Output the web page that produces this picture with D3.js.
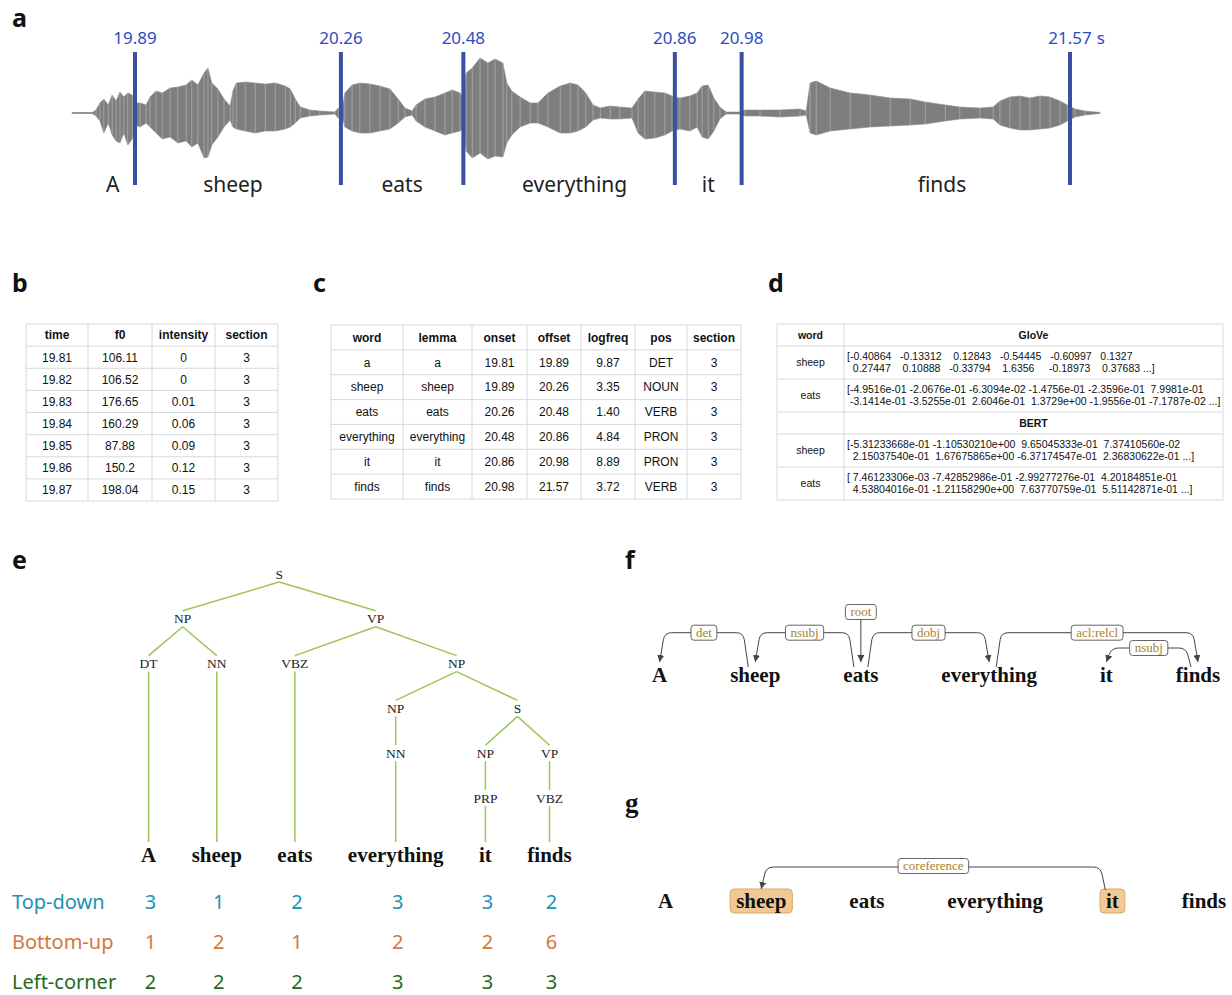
<!DOCTYPE html>
<html>
<head>
<meta charset="utf-8">
<script src="https://cdn.jsdelivr.net/npm/d3@7"></script>
<style>
  body { margin: 0; background: #fff; }
  svg { display: block; }
</style>
</head>
<body>
<script>
// ---- data ----
const boundaries = [19.89, 20.26, 20.48, 20.86, 20.98, 21.57];
const audioWords = ["A", "sheep", "eats", "everything", "it", "finds"];
const audioWordTimes = [19.85, 20.066, 20.37, 20.68, 20.92, 21.34];
// waveform envelope: [time s, upper amp, lower amp]
const waveform = [
  [19.777,0.5,0.5],[19.813,0.5,0.5],[19.820,3,3],[19.827,10,8],[19.834,14,20],[19.842,8,10],
  [19.849,18,22],[19.856,12,28],[19.863,21,30],[19.870,16,20],[19.877,20,32],[19.885,18,26],
  [19.890,10,12],[19.899,10,14],[19.910,8,10],[19.917,16,14],[19.928,22,20],[19.939,20,26],
  [19.953,25,24],[19.967,26,30],[19.982,28,28],[19.992,33,34],[20.003,28,30],[20.014,40,45],
  [20.021,45,44],[20.028,30,32],[20.039,24,24],[20.050,14,14],[20.061,7,7],[20.066,22,14],
  [20.072,30,16],[20.088,31,18],[20.106,30,20],[20.124,29,18],[20.142,30,18],[20.160,27,16],
  [20.169,24,14],[20.178,14,10],[20.187,6,5],[20.204,3,3],[20.222,2,2],[20.249,1,1],
  [20.255,5,5],[20.262,3,3],[20.267,20,14],[20.280,28,18],[20.294,30,20],[20.312,29,20],
  [20.330,27,18],[20.348,24,16],[20.363,14,10],[20.375,5,4],[20.388,2,2],[20.395,8,8],
  [20.411,14,14],[20.429,16,18],[20.447,20,22],[20.460,23,20],[20.474,20,18],[20.480,15,15],
  [20.485,40,38],[20.496,45,45],[20.510,55,40],[20.524,50,46],[20.537,54,43],[20.551,50,44],
  [20.558,30,30],[20.567,22,22],[20.582,16,14],[20.600,10,10],[20.614,10,10],[20.632,20,14],
  [20.654,27,20],[20.672,30,20],[20.686,28,18],[20.700,20,14],[20.713,8,7],[20.726,5,5],
  [20.744,7,6],[20.761,6,6],[20.783,5,5],[20.794,14,20],[20.806,22,26],[20.824,21,25],
  [20.842,20,22],[20.855,17,18],[20.869,15,16],[20.887,17,18],[20.900,20,14],[20.909,27,24],
  [20.920,28,26],[20.930,15,18],[20.941,6,6],[20.952,1,1],[20.977,1,1],[20.986,3,3],
  [21.013,3,3],[21.049,3,4],[21.085,4,3],[21.096,2,2],[21.103,30,20],[21.114,32,22],
  [21.139,25,18],[21.175,20,16],[21.211,18,14],[21.247,15,13],[21.283,14,12],[21.310,11,11],
  [21.346,8,8],[21.372,6,6],[21.408,5,5],[21.432,6,6],[21.444,12,12],[21.462,16,15],
  [21.480,17,17],[21.498,15,17],[21.516,17,16],[21.534,16,15],[21.552,12,12],[21.565,8,8],
  [21.579,4,4],[21.597,2,2],[21.624,0.5,0.5]
];

const prosodyCols = ["time", "f0", "intensity", "section"];
const prosodyTime = [19.81, 19.82, 19.83, 19.84, 19.85, 19.86, 19.87];
const prosodyF0 = [106.11, 106.52, 176.65, 160.29, 87.88, 150.2, 198.04];
const prosodyIntensity = [0, 0, 0.01, 0.06, 0.09, 0.12, 0.15];
const prosodySection = [3, 3, 3, 3, 3, 3, 3];

const wordCols = ["word", "lemma", "onset", "offset", "logfreq", "pos", "section"];
const wordOnsets = [19.81, 19.89, 20.26, 20.48, 20.86, 20.98];
const wordOffsets = [19.89, 20.26, 20.48, 20.86, 20.98, 21.57];
const logFreq = [9.87, 3.35, 1.40, 4.84, 8.89, 3.72];
const posTags = ["DET", "NOUN", "VERB", "PRON", "PRON", "VERB"];

const embedWords = ["sheep", "eats"];
const gloveVectors = [
  ["[-0.40864   -0.13312    0.12843   -0.54445   -0.60997   0.1327",
   "  0.27447    0.10888   -0.33794    1.6356     -0.18973    0.37683 ...]"],
  ["[-4.9516e-01 -2.0676e-01 -6.3094e-02 -1.4756e-01 -2.3596e-01  7.9981e-01",
   " -3.1414e-01 -3.5255e-01  2.6046e-01  1.3729e+00 -1.9556e-01 -7.1787e-02 ...]"]
];
const bertVectors = [
  ["[-5.31233668e-01 -1.10530210e+00  9.65045333e-01  7.37410560e-02",
   "  2.15037540e-01  1.67675865e+00 -6.37174547e-01  2.36830622e-01 ...]"],
  ["[ 7.46123306e-03 -7.42852986e-01 -2.99277276e-01  4.20184851e-01",
   "  4.53804016e-01 -1.21158290e+00  7.63770759e-01  5.51142871e-01 ...]"]
];

const parseTree = "(S (NP (DT A) (NN sheep)) (VP (VBZ eats) (NP (NP (NN everything)) (S (NP (PRP it)) (VP (VBZ finds))))))";
const strategies = ["Top-down", "Bottom-up", "Left-corner"];
const topDown = [3, 1, 2, 3, 3, 2];
const bottomUp = [1, 2, 1, 2, 2, 6];
const leftCorner = [2, 2, 2, 3, 3, 3];

const sentence = ["A", "sheep", "eats", "everything", "it", "finds"];
const depHeads = [1, 2, -1, 2, 5, 3];     // head index of each word, -1 = root
const depLabels = ["det", "nsubj", "root", "dobj", "nsubj", "acl:relcl"];
const corefLinks = [[4, 1]];               // it -> sheep
const corefLabel = "coreference";

// ---- setup ----
const SANS = "'Noto Sans', 'Noto Sans CJK KR', sans-serif";
const TAB = "'Liberation Sans', Arial, sans-serif";
const SERIF = "'Liberation Serif', 'Times New Roman', serif";

const svg = d3.select("body").append("svg").attr("width", 1232).attr("height", 995);

svg.append("defs").append("marker")
  .attr("id", "arr").attr("viewBox", "0 0 10 10").attr("refX", 10).attr("refY", 5)
  .attr("markerWidth", 7).attr("markerHeight", 7).attr("markerUnits", "userSpaceOnUse")
  .attr("orient", "auto")
  .append("path").attr("d", "M0,0 L10,5 L0,10 Z").attr("fill", "#444");

// panel letters
[["a", 12, 27], ["b", 12, 292], ["c", 313, 292], ["d", 768, 292], ["e", 12, 569], ["f", 625, 569]]
  .forEach(([t, x, y]) => svg.append("text").attr("x", x).attr("y", y).text(t)
    .attr("font-family", SANS).attr("font-weight", "bold").attr("font-size", 25).attr("fill", "#111"));
svg.append("text").attr("x", 625).attr("y", 812).text("g")
  .attr("font-family", SERIF).attr("font-weight", "bold").attr("font-size", 27).attr("fill", "#111");

// ---- a: waveform ----
const x = d3.scaleLinear().domain([19.89, 21.57]).range([135, 1070]);
const yWave = d3.scaleLinear().domain([-60, 60]).range([173, 53]);
const ga = svg.append("g");

ga.append("line")
  .attr("x1", x(waveform[0][0])).attr("x2", x(waveform[waveform.length - 1][0]))
  .attr("y1", yWave(0)).attr("y2", yWave(0)).attr("stroke", "#9a9a9a");
ga.append("path").datum(waveform)
  .attr("d", d3.area().x(d => x(d[0])).y0(d => yWave(-d[2])).y1(d => yWave(d[1])))
  .attr("fill", "#7e7e7e").attr("stroke", "#8a8a8a").attr("stroke-width", 0.6);
ga.selectAll("line.stripe").data(waveform).join("line").attr("class", "stripe")
  .attr("x1", d => x(d[0])).attr("x2", d => x(d[0]))
  .attr("y1", d => yWave(d[1])).attr("y2", d => yWave(-d[2]))
  .attr("stroke", "#b4b4b4").attr("stroke-width", 0.7);

ga.selectAll("line.bound").data(boundaries).join("line").attr("class", "bound")
  .attr("x1", d => x(d)).attr("x2", d => x(d)).attr("y1", 52).attr("y2", 185)
  .attr("stroke", "#3b4fa6").attr("stroke-width", 4);
ga.selectAll("text.bound").data(boundaries).join("text").attr("class", "bound")
  .attr("x", d => x(d)).attr("y", 44).attr("text-anchor", "middle")
  .attr("font-family", SANS).attr("font-size", 17).attr("fill", "#2c4cc0")
  .text(d => d.toFixed(2))
  .each(function (d, i) {
    if (i === boundaries.length - 1) {
      const w = this.getComputedTextLength();
      ga.append("text").attr("x", x(d) + w / 2 + 5).attr("y", 44)
        .attr("font-family", SANS).attr("font-size", 17).attr("fill", "#2c4cc0").text("s");
    }
  });
ga.selectAll("text.word").data(audioWords).join("text").attr("class", "word")
  .attr("x", (d, i) => x(audioWordTimes[i])).attr("y", 192).attr("text-anchor", "middle")
  .attr("font-family", SANS).attr("font-size", 21).attr("fill", "#222").text(d => d);

// ---- tables ----
function drawTable(g, colX, rowY, rows, opts) {
  const line = "#d8d8d8";
  rowY.forEach(y => g.append("line").attr("x1", colX[0]).attr("x2", colX[colX.length - 1])
    .attr("y1", y).attr("y2", y).attr("stroke", line));
  colX.forEach(cx => g.append("line").attr("x1", cx).attr("x2", cx)
    .attr("y1", rowY[0]).attr("y2", rowY[rowY.length - 1]).attr("stroke", line));
  rows.forEach((r, ri) => r.forEach((c, ci) => {
    g.append("text")
      .attr("x", (colX[ci] + colX[ci + 1]) / 2)
      .attr("y", (rowY[ri] + rowY[ri + 1]) / 2 + opts.size * 0.36)
      .attr("text-anchor", "middle").attr("font-family", TAB).attr("font-size", opts.size)
      .attr("font-weight", ri === 0 ? "bold" : "normal").attr("fill", "#111").text(c);
  }));
}

// b
const bRows = [prosodyCols].concat(prosodyTime.map((t, i) =>
  [t.toFixed(2), String(prosodyF0[i]), String(prosodyIntensity[i]), String(prosodySection[i])]));
drawTable(svg.append("g"), [26, 88, 152, 215, 278],
  d3.range(9).map(i => 324 + i * 22.125), bRows, { size: 12 });

// c
const cRows = [wordCols].concat(sentence.map((w, i) =>
  [w.toLowerCase(), w.toLowerCase(), wordOnsets[i].toFixed(2), wordOffsets[i].toFixed(2),
   logFreq[i].toFixed(2), posTags[i], "3"]));
drawTable(svg.append("g"), [331, 403, 472, 527, 581, 635, 687, 741],
  d3.range(8).map(i => 325 + i * 24.86), cRows, { size: 12 });

// d
{
  const g = svg.append("g");
  const colX = [777, 844, 1223];
  const rowY = [324, 346, 379, 412, 434, 467, 500];
  rowY.forEach(y => g.append("line").attr("x1", colX[0]).attr("x2", colX[2])
    .attr("y1", y).attr("y2", y).attr("stroke", "#d8d8d8"));
  colX.forEach(cx => g.append("line").attr("x1", cx).attr("x2", cx)
    .attr("y1", rowY[0]).attr("y2", rowY[6]).attr("stroke", "#d8d8d8"));
  const mid = (a, b) => (a + b) / 2;
  const cell = (t, xx, y, bold, anchor) => g.append("text").attr("x", xx).attr("y", y)
    .attr("text-anchor", anchor).attr("font-family", TAB).attr("font-size", 10.5)
    .attr("font-weight", bold ? "bold" : "normal").attr("fill", "#111")
    .style("white-space", "pre").text(t);
  cell("word", mid(colX[0], colX[1]), mid(rowY[0], rowY[1]) + 3.8, true, "middle");
  cell("GloVe", mid(colX[1], colX[2]), mid(rowY[0], rowY[1]) + 3.8, true, "middle");
  cell("BERT", mid(colX[1], colX[2]), mid(rowY[3], rowY[4]) + 3.8, true, "middle");
  const blocks = [[gloveVectors, 1], [bertVectors, 4]];
  blocks.forEach(([vecs, r0]) => vecs.forEach((lines, k) => {
    const top = rowY[r0 + k], bot = rowY[r0 + k + 1], m = mid(top, bot);
    cell(embedWords[k], mid(colX[0], colX[1]), m + 3.8, false, "middle");
    lines.forEach((ln, j) => cell(ln, colX[1] + 3, m + (j === 0 ? -6 : 6) + 3.8, false, "start"));
  }));
}

// ---- e: constituency tree ----
function parseBrackets(s) {
  const tok = s.replace(/\(/g, " ( ").replace(/\)/g, " ) ").trim().split(/\s+/);
  let i = 0;
  function node() {
    i++;
    const n = { name: tok[i++], children: [] };
    while (tok[i] !== ")") {
      if (tok[i] === "(") n.children.push(node());
      else n.children.push({ name: tok[i++], children: [] });
    }
    i++;
    return n;
  }
  return node();
}

const root = d3.hierarchy(parseBrackets(parseTree), d => d.children.length ? d.children : null);
const levelY = d3.scaleLinear().domain([0, 5]).range([574, 798]);
const wordY = 855;
const ge = svg.append("g");
const leaves = root.leaves();

let cursor = 141;
ge.selectAll("text.leaf").data(leaves).join("text").attr("class", "leaf")
  .attr("y", wordY + 7).attr("text-anchor", "middle")
  .attr("font-family", SERIF).attr("font-weight", "bold").attr("font-size", 21).attr("fill", "#111")
  .text(d => d.data.name)
  .each(function (d) {
    const w = this.getComputedTextLength();
    d.x = cursor + w / 2;
    cursor += w + 35.5;
  })
  .attr("x", d => d.x);
root.eachAfter(d => { if (d.children) d.x = d3.mean(d.children, c => c.x); });

const inner = root.descendants().filter(d => d.children);
ge.selectAll("line.edge").data(root.links()).join("line").attr("class", "edge")
  .attr("x1", d => d.source.x).attr("y1", d => levelY(d.source.depth) + 8)
  .attr("x2", d => d.target.x)
  .attr("y2", d => d.target.children ? levelY(d.target.depth) - 8 : wordY - 13)
  .attr("stroke", "#9cc55a").attr("stroke-width", 1.5);
ge.selectAll("text.node").data(inner).join("text").attr("class", "node")
  .attr("x", d => d.x).attr("y", d => levelY(d.depth) + 4.5).attr("text-anchor", "middle")
  .attr("font-family", SERIF).attr("font-size", 13.5).attr("fill", "#222").text(d => d.data.name);

const stratColors = ["#2191b4", "#d2773f", "#1d6b1d"];
const stratValues = [topDown, bottomUp, leftCorner];
const stratY = d3.scalePoint().domain(strategies).range([902, 982]);
strategies.forEach((s, si) => {
  ge.append("text").attr("x", 12).attr("y", stratY(s) + 7).text(s)
    .attr("font-family", SANS).attr("font-size", 20).attr("fill", stratColors[si]);
  ge.selectAll(null).data(stratValues[si]).join("text")
    .attr("x", (d, i) => leaves[i].x + 2).attr("y", stratY(s) + 7).attr("text-anchor", "middle")
    .attr("font-family", SANS).attr("font-size", 20).attr("fill", stratColors[si]).text(d => d);
});

// ---- f / g shared helpers ----
function layoutWords(g, words, startX, gap, y) {
  const centers = [];
  let cx = startX;
  g.selectAll(null).data(words).join("text")
    .attr("y", y + 7).attr("text-anchor", "middle")
    .attr("font-family", SERIF).attr("font-weight", "bold")
    .attr("font-size", 21).attr("fill", "#111").text(d => d)
    .each(function (d, i) {
      const w = this.getComputedTextLength();
      centers[i] = { x: cx + w / 2, w: w };
      cx += w + gap;
    })
    .attr("x", (d, i) => centers[i].x);
  return centers;
}

function arcPath(xs, xt, yTop, yBot, yTip) {
  const dir = xt < xs ? -1 : 1, s = 5, r = 7;
  const c1 = xs + dir * s, c2 = xt - dir * s;
  const fs = (yBot - yTop - r) / (yBot - yTop);
  const ft = r / (yTip - yTop);
  return `M${xs},${yBot} L${xs + (c1 - xs) * fs},${yTop + r} Q${c1},${yTop} ${c1 + dir * r},${yTop}` +
    ` L${c2 - dir * r},${yTop} Q${c2},${yTop} ${c2 + (xt - c2) * ft},${yTop + r} L${xt},${yTip}`;
}

function labelBox(g, text, cx, cy) {
  const t = g.append("text").attr("x", cx).attr("y", cy + 4.2).attr("text-anchor", "middle")
    .attr("font-family", SERIF).attr("font-size", 13).attr("fill", "#a9822c").text(text);
  const w = t.node().getComputedTextLength() + 10;
  g.insert("rect", "text:last-child").attr("x", cx - w / 2).attr("y", cy - 7.5)
    .attr("width", w).attr("height", 15).attr("rx", 3)
    .attr("fill", "#fff").attr("stroke", "#555").attr("stroke-width", 0.9);
}

// ---- f: dependencies ----
{
  const g = svg.append("g");
  const pos = layoutWords(g, sentence, 652, 63, 675);
  const arcs = depHeads.map((h, i) => ({ h, i, label: depLabels[i] })).filter(a => a.h >= 0);
  arcs.forEach(a => {
    a.lo = Math.min(a.h, a.i); a.hi = Math.max(a.h, a.i);
  });
  arcs.forEach(a => {
    a.level = arcs.filter(b => b !== a && b.lo <= a.lo && b.hi >= a.hi).length;
  });
  const levelTop = d3.scaleLinear().domain([0, 1]).range([632.7, 648]);
  arcs.forEach(a => {
    const xs = pos[a.h].x + 7 * Math.sign(a.i - a.h);
    const xt = pos[a.i].x;
    const yTop = levelTop(a.level);
    g.append("path").attr("d", arcPath(xs, xt, yTop, 667, 662))
      .attr("fill", "none").attr("stroke", "#444").attr("stroke-width", 1)
      .attr("marker-end", "url(#arr)");
    const dir = xt < xs ? -1 : 1;
    labelBox(g, a.label, ((xs + dir * 5) + (xt - dir * 5)) / 2, yTop);
  });
  const ri = depHeads.indexOf(-1);
  g.append("line").attr("x1", pos[ri].x).attr("x2", pos[ri].x).attr("y1", 619).attr("y2", 662)
    .attr("stroke", "#444").attr("marker-end", "url(#arr)");
  labelBox(g, depLabels[ri], pos[ri].x, 612);
}

// ---- g: coreference ----
{
  const g = svg.append("g");
  const hl = g.append("g");
  const pos = layoutWords(g, sentence, 658, 63, 901);
  corefLinks.forEach(([from, to]) => {
    [from, to].forEach(k => hl.append("rect")
      .attr("x", pos[k].x - pos[k].w / 2 - 6).attr("y", 889)
      .attr("width", pos[k].w + 12).attr("height", 24).attr("rx", 4)
      .attr("fill", "#f2c994").attr("stroke", "#d9a868"));
    const xs = pos[from].x - 7 * Math.sign(from - to);
    const xt = pos[to].x;
    g.append("path").attr("d", arcPath(xs, xt, 867, 890, 889))
      .attr("fill", "none").attr("stroke", "#444").attr("stroke-width", 1)
      .attr("marker-end", "url(#arr)");
    const dir = xt < xs ? -1 : 1;
    labelBox(g, corefLabel, ((xs + dir * 5) + (xt - dir * 5)) / 2, 866);
  });
}
</script>
</body>
</html>
